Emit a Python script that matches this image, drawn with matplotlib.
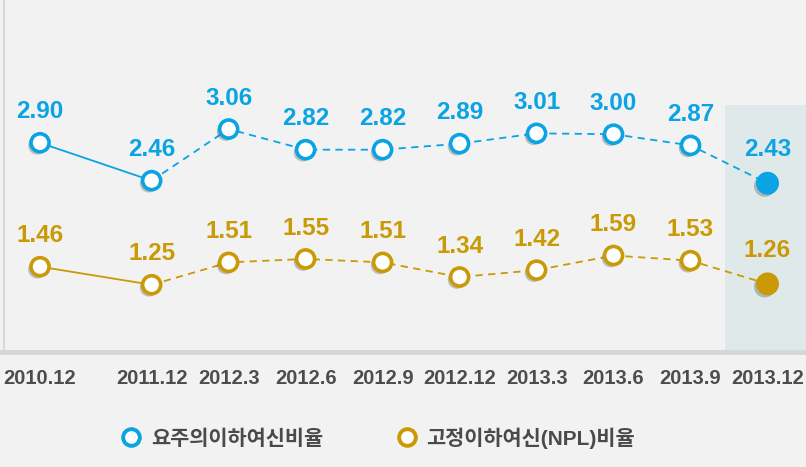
import matplotlib.pyplot as plt
import matplotlib.patheffects as pe
from matplotlib.lines import Line2D
from matplotlib.patches import Rectangle

# data
periods = ['2010.12', '2011.12', '2012.3', '2012.6', '2012.9', '2012.12',
           '2013.3', '2013.6', '2013.9', '2013.12']
watch_ratio = [2.90, 2.46, 3.06, 2.82, 2.82, 2.89, 3.01, 3.00, 2.87, 2.43]
npl_ratio = [1.46, 1.25, 1.51, 1.55, 1.51, 1.34, 1.42, 1.59, 1.53, 1.26]
series_names = ['요주의이하여신비율', '고정이하여신(NPL)비율']

blue = '#0aa3e3'
gold = '#c99a06'
bg = '#f2f2f2'

plt.rcParams['font.family'] = ['Liberation Sans', 'Noto Sans CJK KR', 'DejaVu Sans']

# first gap (annual) drawn a little wider than the quarterly ones
xs = [i + (0.45 if i > 0 else 0) for i in range(len(periods))]

fig = plt.figure(figsize=(8.06, 4.67), dpi=100)
fig.patch.set_facecolor(bg)
ax = fig.add_axes([0, 0.246, 1, 0.754])
ax.set_facecolor(bg)
ax.set_xlim(-0.52, 9.95)
ax.set_ylim(0.467, 4.56)

# shaded box behind the latest period
ax.add_patch(Rectangle((8.9, 0.467), 1.1, 2.87, facecolor='#dfe9ea',
                       edgecolor='none', zorder=0))

shadow = [pe.SimplePatchShadow(offset=(-2, -2), shadow_rgbFace='#555555', alpha=0.35), pe.Normal()]

for vals, col in [(watch_ratio, blue), (npl_ratio, gold)]:
    ax.plot(xs[:2], vals[:2], color=col, lw=1.3, zorder=2)
    ax.plot(xs[1:], vals[1:], color=col, lw=1.3, ls=(0, (4, 3)), zorder=2)
    ax.plot(xs[:-1], vals[:-1], ls='none', marker='o', ms=13, mfc='white',
            mec=col, mew=2.6, zorder=3, path_effects=shadow)
    ax.plot(xs[-1:], vals[-1:], ls='none', marker='o', ms=15.5, mfc=col,
            mec=col, mew=1, zorder=3, path_effects=shadow)
    for x, v in zip(xs, vals):
        dy = 14 if x < xs[-1] else 16
        ax.annotate(f'{v:.2f}', (x, v), xytext=(0, dy), textcoords='offset points',
                    ha='center', va='bottom', color=col, fontsize=17.5,
                    fontweight='bold')

ax.set_xticks(xs)
ax.set_xticklabels(periods)
ax.tick_params(axis='x', length=0, pad=12, labelsize=14.5, labelcolor='#4d4d4d')
for t in ax.get_xticklabels():
    t.set_fontweight('bold')
ax.set_yticks([])

for s in ['top', 'right']:
    ax.spines[s].set_visible(False)
ax.spines['bottom'].set_color('#d6d6d6')
ax.spines['bottom'].set_linewidth(3.5)
ax.spines['left'].set_color('#d9d9d9')
ax.spines['left'].set_linewidth(1.5)
ax.spines['left'].set_position(('data', -0.47))

handles = [Line2D([], [], ls='none', marker='o', ms=12, mfc='white', mec=c, mew=2.8)
           for c in (blue, gold)]
fig.legend(handles, series_names, loc='center', bbox_to_anchor=(0.465, 0.062),
           ncol=2, frameon=False, labelcolor='#4a4a4a', handlelength=1.6,
           columnspacing=3.2, handletextpad=0.15, prop={'weight': 'bold', 'size': 15})

fig.savefig('out.png', dpi=100, facecolor=bg)
